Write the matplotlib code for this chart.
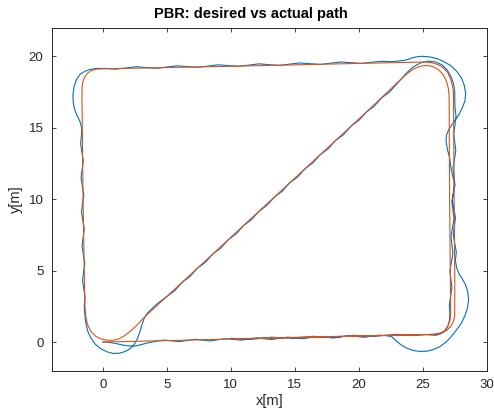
import matplotlib
matplotlib.use('Agg')
import matplotlib.pyplot as plt

plt.rcParams['font.family'] = ['Liberation Sans', 'DejaVu Sans']

# --- data: actual path (blue), one list of (x, y) per stretch
actual_bottom_1 = [(0.0, 0.0), (0.5, -0.03), (1.0, -0.1), (1.5, -0.2), (2.0, -0.27), (2.5, -0.28),
                   (3.0, -0.18), (3.5, -0.06), (4.2, 0.06), (4.8, 0.14), (5.4, 0.08), (6.0, 0.03),
                   (6.6, 0.11), (7.2, 0.19), (7.8, 0.13), (8.4, 0.08), (9.0, 0.16), (9.6, 0.24),
                   (10.2, 0.18), (10.8, 0.13), (11.4, 0.21), (12.0, 0.29), (12.6, 0.23), (13.2, 0.18),
                   (13.8, 0.26), (14.4, 0.34), (15.0, 0.29), (15.6, 0.23), (16.2, 0.31), (16.8, 0.39),
                   (17.4, 0.34), (18.0, 0.28), (18.6, 0.36), (19.2, 0.44), (19.8, 0.39), (20.4, 0.33),
                   (21.0, 0.41), (21.6, 0.48), (22.2, 0.44), (22.6, 0.36)]
actual_loop_br = [(22.9, 0.1), (23.3, -0.2), (23.8, -0.45), (24.3, -0.6), (24.8, -0.66), (25.3, -0.64),
                  (25.8, -0.54), (26.3, -0.34), (26.8, -0.02), (27.2, 0.35), (27.6, 0.8), (28.0, 1.3),
                  (28.3, 1.85), (28.5, 2.4), (28.58, 2.95), (28.52, 3.5), (28.35, 4.0), (28.1, 4.4),
                  (27.85, 4.75), (27.65, 5.2), (27.55, 5.7)]
actual_right_up = [(27.62, 6.3), (27.5, 6.9), (27.38, 7.5), (27.47, 8.1), (27.56, 8.7), (27.43, 9.3),
                   (27.31, 9.9), (27.39, 10.5), (27.47, 11.1), (27.32, 11.7), (27.18, 12.3), (27.1, 12.9),
                   (26.92, 13.5), (26.82, 14.1)]
actual_loop_tr = [(26.85, 14.5), (27.05, 14.9), (27.38, 15.35), (27.78, 15.85), (28.1, 16.4), (28.3, 16.9),
                  (28.35, 17.4), (28.25, 17.95), (28.02, 18.5), (27.65, 18.95), (27.18, 19.35), (26.6, 19.65),
                  (26.1, 19.84), (25.5, 19.96), (24.9, 20.0), (24.5, 19.96), (24.1, 19.86), (23.6, 19.72)]
actual_top = [(22.6, 19.62), (21.8, 19.65), (21.0, 19.58), (20.2, 19.5), (19.4, 19.55), (18.6, 19.6),
              (17.8, 19.52), (17.0, 19.43), (16.2, 19.48), (15.4, 19.53), (14.6, 19.45), (13.8, 19.36),
              (13.0, 19.41), (12.2, 19.47), (11.4, 19.38), (10.6, 19.3), (9.8, 19.35), (9.0, 19.4),
              (8.2, 19.31), (7.4, 19.23), (6.6, 19.28), (5.8, 19.33), (5.0, 19.25), (4.2, 19.16),
              (3.4, 19.21), (2.6, 19.27), (1.8, 19.18), (1.0, 19.1), (0.2, 19.15)]
actual_bulge_tl = [(-0.5, 19.15), (-1.0, 19.08), (-1.4, 18.95), (-1.77, 18.75), (-2.05, 18.4), (-2.25, 17.9),
                   (-2.34, 17.3), (-2.32, 16.8), (-2.22, 16.3), (-2.02, 15.85), (-1.8, 15.45), (-1.66, 15.0),
                   (-1.67, 14.5)]
actual_left = [(-1.74, 13.9), (-1.65, 13.3), (-1.53, 12.7), (-1.62, 12.1), (-1.71, 11.5), (-1.6, 10.9),
               (-1.49, 10.3), (-1.59, 9.7), (-1.67, 9.1), (-1.57, 8.5), (-1.45, 7.9), (-1.55, 7.3),
               (-1.63, 6.7), (-1.53, 6.1), (-1.41, 5.5), (-1.51, 4.9), (-1.59, 4.3), (-1.49, 3.7),
               (-1.39, 3.1), (-1.46, 2.5)]
actual_loop_bl = [(-1.42, 2.0), (-1.35, 1.4), (-1.2, 0.8), (-0.95, 0.3), (-0.6, -0.15), (-0.2, -0.45),
                  (0.3, -0.68), (0.83, -0.8), (1.3, -0.78), (1.74, -0.66), (2.1, -0.48), (2.42, -0.2),
                  (2.68, 0.2), (2.88, 0.7), (3.05, 1.2), (3.25, 1.7), (3.5, 2.05), (3.85, 2.35), (4.3, 2.72)]
actual_diag = [(5.0, 3.19), (5.6, 3.58), (6.2, 4.18), (6.8, 4.58), (7.4, 5.17), (8.0, 5.57), (8.6, 6.17),
               (9.2, 6.56), (9.8, 7.16), (10.4, 7.56), (11.0, 8.15), (11.6, 8.55), (12.2, 9.15),
               (12.8, 9.55), (13.4, 10.14), (14.0, 10.54), (14.6, 11.14), (15.2, 11.53), (15.8, 12.13),
               (16.4, 12.53), (17.0, 13.12), (17.6, 13.52), (18.2, 14.12), (18.8, 14.51), (19.4, 15.11),
               (20.0, 15.51), (20.6, 16.1), (21.2, 16.5), (21.8, 17.1), (22.4, 17.49)]
actual_corner_tr = [(23.2, 18.3), (23.7, 18.8), (24.2, 19.22), (24.8, 19.53), (25.4, 19.66), (26.0, 19.6),
                    (26.5, 19.4), (26.9, 19.05), (27.2, 18.6), (27.4, 18.1), (27.5, 17.5), (27.5, 17.0)]
actual_right_down = [(27.52, 16.4), (27.6, 15.8), (27.52, 15.2), (27.42, 14.6), (27.5, 14.0), (27.58, 13.4),
                     (27.48, 12.8), (27.36, 12.2), (27.44, 11.6), (27.52, 11.0), (27.4, 10.4), (27.28, 9.8),
                     (27.36, 9.2), (27.44, 8.6), (27.32, 8.0), (27.2, 7.4), (27.28, 6.8), (27.36, 6.2),
                     (27.24, 5.6), (27.12, 5.0), (27.2, 4.4), (27.28, 3.8), (27.18, 3.2), (27.08, 2.6),
                     (27.12, 2.0), (27.08, 1.5), (26.95, 1.05), (26.7, 0.75), (26.35, 0.55), (26.0, 0.47)]
actual_bottom_2 = [(25.2, 0.53), (24.4, 0.46), (23.6, 0.5), (22.8, 0.54), (22.0, 0.46), (21.2, 0.4),
                   (20.4, 0.43), (19.6, 0.47), (18.8, 0.39), (18.0, 0.32), (17.2, 0.36), (16.4, 0.4),
                   (15.6, 0.33), (14.8, 0.26), (14.0, 0.29), (13.2, 0.34), (12.4, 0.26), (11.6, 0.19),
                   (10.8, 0.23), (10.0, 0.26)]

# --- data: desired path (orange)
desired_path = [(0.0, 0.0), (5.0, 0.1), (10.0, 0.21), (15.0, 0.31), (20.0, 0.42), (25.0, 0.52),
                (25.6, 0.54), (26.1, 0.58), (26.5, 0.66), (26.85, 0.8), (27.15, 1.05), (27.35, 1.35),
                (27.47, 1.7), (27.5, 2.1), (27.5, 5.0), (27.45, 10.0), (27.42, 15.0), (27.4, 17.4),
                (27.33, 17.9), (27.18, 18.4), (26.95, 18.85), (26.6, 19.2), (26.2, 19.42), (25.7, 19.55),
                (25.2, 19.6), (20.0, 19.5), (10.0, 19.3), (0.0, 19.12), (-0.5, 19.1), (-0.9, 19.0),
                (-1.2, 18.82), (-1.42, 18.55), (-1.57, 18.2), (-1.63, 17.8), (-1.64, 17.3),
                (-1.55, 10.0), (-1.42, 3.0), (-1.38, 2.2), (-1.3, 1.6), (-1.15, 1.1), (-0.9, 0.7),
                (-0.55, 0.4), (-0.1, 0.2), (0.35, 0.12), (0.8, 0.12), (1.25, 0.22), (1.7, 0.45),
                (2.2, 0.8), (2.7, 1.22), (3.17, 1.68), (20.88, 16.34), (22.5, 17.72), (23.3, 18.4),
                (23.8, 18.8), (24.3, 19.12), (24.8, 19.3), (25.3, 19.36), (25.8, 19.28), (26.25, 19.05),
                (26.6, 18.7), (26.85, 18.25), (27.0, 17.75), (27.06, 17.2), (27.1, 10.0), (27.18, 2.0),
                (27.12, 1.5), (26.95, 1.1), (26.7, 0.8), (26.35, 0.6), (25.9, 0.52), (20.0, 0.43),
                (10.3, 0.23)]

x_ticks = [0, 5, 10, 15, 20, 25, 30]
y_ticks = [0, 5, 10, 15, 20]

actual_path = (actual_bottom_1 + actual_loop_br + actual_right_up + actual_loop_tr + actual_top
               + actual_bulge_tl + actual_left + actual_loop_bl + actual_diag + actual_corner_tr
               + actual_right_down + actual_bottom_2)
ax_, ay_ = zip(*actual_path)
dx_, dy_ = zip(*desired_path)

# --- plot
fig = plt.figure(figsize=(4.94, 4.19), dpi=100)
ax = fig.add_axes([0.1047, 0.1155, 0.8806, 0.8184])

ax.plot(ax_, ay_, color='#0072BD', lw=0.8)
ax.plot(dx_, dy_, color='#D95319', lw=0.8)

ax.set_xlim(-4, 30)
ax.set_ylim(-2, 22)
ax.set_xticks(x_ticks)
ax.set_yticks(y_ticks)
ax.tick_params(direction='in', top=True, right=True, length=3, width=0.6,
               colors='#262626', labelsize=9.5, pad=6)
for s in ax.spines.values():
    s.set_color('#262626')
    s.set_linewidth(0.7)

# title sits a little left of the axes centre in the original
ax.set_title('PBR: desired vs actual path', fontsize=10.5, fontweight='bold', pad=7, x=0.458)
ax.set_xlabel('x[m]', fontsize=10.5, color='#262626', labelpad=2)
ax.set_ylabel('y[m]', fontsize=10.5, color='#262626', labelpad=4)

fig.savefig('out.png', dpi=100)
